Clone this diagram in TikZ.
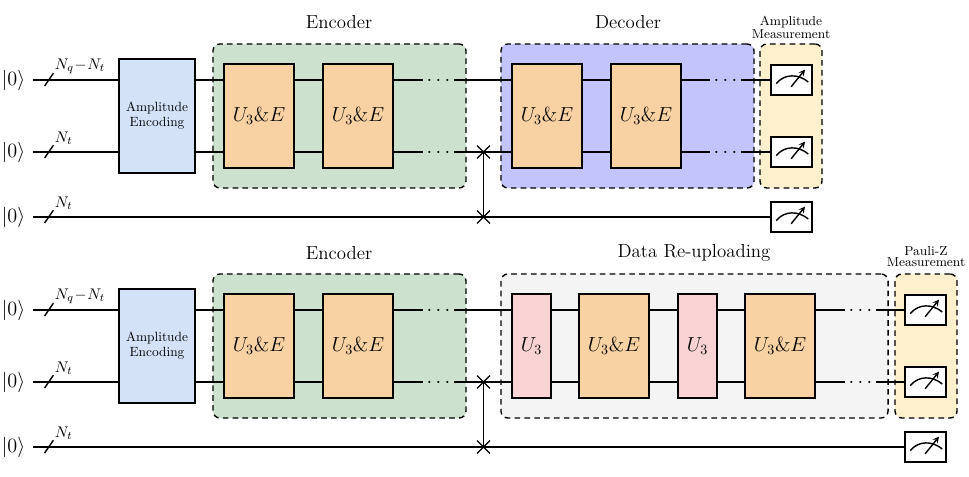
\documentclass[tikz,border=0pt]{standalone}
\usepackage{xcolor}
\usetikzlibrary{shapes.misc, arrows, positioning}
\definecolor{ampblue}{RGB}{212, 226, 248}
\definecolor{encgreen}{RGB}{205, 226, 206}
\definecolor{decblue}{RGB}{196, 196, 253}
\definecolor{gateorange}{RGB}{248, 210, 163}
\definecolor{gatepink}{RGB}{249, 211, 211}
\definecolor{measyellow}{RGB}{254, 240, 204}
\definecolor{datagray}{RGB}{244, 244, 244}

\begin{document}
\begin{tikzpicture}[
    x=0.025cm, y=-0.025cm,
    line width=1pt,
    ket/.style={anchor=east, inner xsep=5pt, inner ysep=0pt, font=\Large},
    amp/.style={rectangle, draw, fill=ampblue, minimum width=1.9cm, minimum height=2.85cm, inner sep=0pt, outer sep=0pt, align=center, font=\fontsize{9.5}{10.8}\selectfont},
    gate/.style={rectangle, draw, fill=gateorange, minimum width=1.75cm, minimum height=2.6cm, inner sep=0pt, outer sep=0pt, font=\Large},
    ugate/.style={gate, fill=gatepink, minimum width=0.975cm},
    group/.style={rectangle, draw, dashed, dash pattern=on 4pt off 3pt, rounded corners=5pt, minimum height=3.6cm, inner sep=0pt},
    meter/.style={rectangle, draw, fill=white, minimum width=1.025cm, minimum height=0.75cm, inner sep=0pt, outer sep=0pt, path picture={
        \draw ([shift={(-0.38cm,-0.09cm)}]path picture bounding box.center) .. controls +(0.2cm,0.25cm) and +(-0.25cm,0.21cm) .. +(0.8cm,0.04cm);
        \draw[->, >=stealth] ([shift={(-0.01cm,-0.17cm)}]path picture bounding box.center) -- +(0.35cm,0.43cm);
    }},
    swap/.style={cross out, draw, minimum size=0.32cm, inner sep=0pt, outer sep=0pt, line width=0.8pt},
    dotsnode/.style={inner xsep=2pt, inner ysep=0pt, text height=7.2pt, text depth=0pt, font=\Large},
    title/.style={font=\fontsize{13.4}{15}\selectfont},
    smalltitle/.style={align=center, font=\fontsize{9.3}{9.3}\selectfont},
    countlabel/.style={anchor=west, inner sep=0pt, font=\fontsize{10.95}{13}\selectfont}
]
\useasboundingbox (0,0) rectangle (969,477);

% group backgrounds
\node[group, fill=encgreen, minimum width=6.325cm] (encA) at (339.5,116) {};
\node[group, fill=decblue, minimum width=6.325cm] (decA) at (627.5,116) {};
\node[group, fill=measyellow, minimum width=1.55cm] (measA) at (791,116) {};
\node[group, fill=encgreen, minimum width=6.325cm] (encB) at (339.5,346) {};
\node[group, fill=datagray, minimum width=9.675cm] (dataB) at (694.5,346) {};
\node[group, fill=measyellow, minimum width=1.55cm] (measB) at (926,346) {};

% titles
\node[title] (encAtitle) at (339,22) {Encoder};
\node[title] (decAtitle) at (628,22) {Decoder};
\node[smalltitle] (measAtitle) at (791,27.5) {Amplitude\\Measurement};
\node[title] (encBtitle) at (339,253) {Encoder};
\node[title] (dataBtitle) at (694,253) {Data Re-uploading};
\node[smalltitle] (measBtitle) at (926,256.5) {Pauli-Z\\[-1.5pt]Measurement};

% inputs
\node[ket] (ket1) at (33,80) {$|0\rangle$};
\node[ket] (ket2) at (33,152) {$|0\rangle$};
\node[ket] (ket3) at (33,217) {$|0\rangle$};
\node[ket] (ket4) at (33,310) {$|0\rangle$};
\node[ket] (ket5) at (33,382) {$|0\rangle$};
\node[ket] (ket6) at (33,447) {$|0\rangle$};

% upper circuit
\node[amp] (ampA) at (157,116) {Amplitude\\Encoding};
\node[gate] (gateA1) at (259,116) {$U_3\&E$};
\node[gate, right=0.725cm of gateA1] (gateA2) {$U_3\&E$};
\node[gate] (gateA3) at (547,116) {$U_3\&E$};
\node[gate, right=0.725cm of gateA3] (gateA4) {$U_3\&E$};
\node[meter] (meterA1) at (791.5,80) {};
\node[meter] (meterA2) at (791.5,152) {};
\node[meter] (meterA3) at (791.5,217) {};
\node[dotsnode] (dotsA1) at (438.5,80) {$\cdots$};
\node[dotsnode] (dotsA2) at (438.5,152) {$\cdots$};
\node[dotsnode] (dotsA3) at (725.5,80) {$\cdots$};
\node[dotsnode] (dotsA4) at (725.5,152) {$\cdots$};
\node[swap] (swapA1) at (483.5,152) {};
\node[swap] (swapA2) at (483.5,217) {};

\draw (ket1.east) -- (ampA.west |- ket1);
\draw (ket2.east) -- (ampA.west |- ket2);
\draw (ket3.east) -- (meterA3.west);
\foreach \y in {ket1, ket2} {
    \draw (ampA.east |- \y) -- (gateA1.west |- \y);
    \draw (gateA1.east |- \y) -- (gateA2.west |- \y);
    \draw (gateA3.east |- \y) -- (gateA4.west |- \y);
}
\draw (gateA2.east |- ket1) -- (dotsA1.west);
\draw (gateA2.east |- ket2) -- (dotsA2.west);
\draw (dotsA1.east) -- (gateA3.west |- ket1);
\draw (dotsA2.east) -- (gateA3.west |- ket2);
\draw (gateA4.east |- ket1) -- (dotsA3.west);
\draw (gateA4.east |- ket2) -- (dotsA4.west);
\draw (dotsA3.east) -- (meterA1.west);
\draw (dotsA4.east) -- (meterA2.west);
\draw (swapA1.center) -- (swapA2.center);

% lower circuit
\node[amp] (ampB) at (157,346) {Amplitude\\Encoding};
\node[gate] (gateB1) at (259,346) {$U_3\&E$};
\node[gate, right=0.725cm of gateB1] (gateB2) {$U_3\&E$};
\node[ugate] (gateB3) at (531.5,346) {$U_3$};
\node[gate, right=0.7cm of gateB3] (gateB4) {$U_3\&E$};
\node[ugate, right=0.725cm of gateB4] (gateB5) {$U_3$};
\node[gate, right=0.7cm of gateB5] (gateB6) {$U_3\&E$};
\node[meter] (meterB1) at (925.5,310) {};
\node[meter] (meterB2) at (925.5,382) {};
\node[meter] (meterB3) at (925.5,447) {};
\node[dotsnode] (dotsB1) at (438.5,310) {$\cdots$};
\node[dotsnode] (dotsB2) at (438.5,382) {$\cdots$};
\node[dotsnode] (dotsB3) at (860.5,310) {$\cdots$};
\node[dotsnode] (dotsB4) at (860.5,382) {$\cdots$};
\node[swap] (swapB1) at (483.5,382) {};
\node[swap] (swapB2) at (483.5,447) {};

\draw (ket4.east) -- (ampB.west |- ket4);
\draw (ket5.east) -- (ampB.west |- ket5);
\draw (ket6.east) -- (meterB3.west);
\foreach \y in {ket4, ket5} {
    \draw (ampB.east |- \y) -- (gateB1.west |- \y);
    \draw (gateB1.east |- \y) -- (gateB2.west |- \y);
    \draw (gateB3.east |- \y) -- (gateB4.west |- \y);
    \draw (gateB4.east |- \y) -- (gateB5.west |- \y);
    \draw (gateB5.east |- \y) -- (gateB6.west |- \y);
}
\draw (gateB2.east |- ket4) -- (dotsB1.west);
\draw (gateB2.east |- ket5) -- (dotsB2.west);
\draw (dotsB1.east) -- (gateB3.west |- ket4);
\draw (dotsB2.east) -- (gateB3.west |- ket5);
\draw (gateB6.east |- ket4) -- (dotsB3.west);
\draw (gateB6.east |- ket5) -- (dotsB4.west);
\draw (dotsB3.east) -- (meterB1.west);
\draw (dotsB4.east) -- (meterB2.west);
\draw (swapB1.center) -- (swapB2.center);

% qubit count marks
\foreach \k/\lab in {ket1/{N_q\!-\!N_t}, ket2/{N_t}, ket3/{N_t}, ket4/{N_q\!-\!N_t}, ket5/{N_t}, ket6/{N_t}} {
    \coordinate (tick) at ([xshift=0.4cm]\k.east);
    \draw ([shift={(-0.11cm,-0.15cm)}]tick) -- ([shift={(0.11cm,0.17cm)}]tick);
    \node[countlabel] (lab\k) at ([shift={(0.13cm,0.34cm)}]tick) {$\lab$};
}
\end{tikzpicture}
\end{document}
